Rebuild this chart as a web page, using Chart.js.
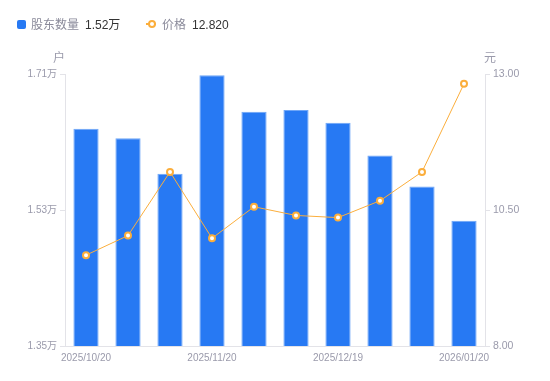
<!DOCTYPE html>
<html>
<head>
<meta charset="utf-8">
<script src="https://cdn.jsdelivr.net/npm/chart.js@4/dist/chart.umd.min.js"></script>
<style>
  html, body { margin: 0; padding: 0; background: #fff; }
  #wrap { position: relative; width: 550px; height: 381px; }
  #legend { position: absolute; left: 17px; top: 15px; font-family: "Liberation Sans", "Noto Sans CJK SC", sans-serif; font-size: 12px; white-space: nowrap; }
  .item { position: absolute; top: 0; height: 18px; line-height: 18px; }
  .lab { color: #8a8a9a; font-family: "Noto Sans CJK SC", sans-serif; }
  .val { color: #333; margin-left: 6px; }
  .sq { position: absolute; left: 0; top: 5px; width: 9px; height: 9px; border-radius: 2px; background: #2779F3; }
  .ln { position: absolute; left: 0; top: 8px; width: 10px; height: 2px; background: #FBAE3C; }
  .dot { position: absolute; left: 2px; top: 5px; width: 4px; height: 4px; border: 2px solid #FBAE3C; border-radius: 50%; background: #fff; }
</style>
</head>
<body>
<div id="wrap">
  <canvas id="c" width="550" height="381"></canvas>
  <div id="legend"></div>
</div>
<script>
const categories = ["2025/10/20","2025/10/31","2025/11/10","2025/11/20","2025/11/28","2025/12/10","2025/12/19","2025/12/31","2026/01/09","2026/01/20"];
const holders = [16375, 16250, 15780, 17085, 16600, 16625, 16455, 16020, 15610, 15157];
const prices = [9.67, 10.03, 11.20, 9.98, 10.56, 10.40, 10.36, 10.67, 11.20, 12.82];
const leftTicks = [13500, 15300, 17100];
const rightTicks = [8.00, 10.50, 13.00];
const shownLabelIdx = [0, 3, 6, 9];
const seriesNames = ["股东数量", "价格"];
const units = ["户", "元"];

const BLUE = "#2779F3", ORANGE = "#FBAE3C", GRAY = "#9a9aab", AXIS = "#e3e3e8";
const FONT = '"Liberation Sans", "Noto Sans CJK SC", sans-serif';

// HTML legend
const lg = document.getElementById('legend');
lg.innerHTML =
  '<div class="item" style="left:0"><span class="sq"></span><span style="margin-left:14px" class="lab">' + seriesNames[0] + '</span><span class="val">' + (holders[holders.length-1]/10000).toFixed(2) + '万</span></div>' +
  '<div class="item" style="left:129px"><span class="ln"></span><span class="dot"></span><span style="margin-left:16px" class="lab">' + seriesNames[1] + '</span><span class="val">' + prices[prices.length-1].toFixed(3) + '</span></div>';

const unitPlugin = {
  id: 'units',
  afterDraw(chart) {
    const ctx = chart.ctx, a = chart.chartArea;
    ctx.save();
    ctx.fillStyle = GRAY;
    ctx.font = '12px "Noto Sans CJK SC", sans-serif';
    ctx.textAlign = 'center';
    ctx.textBaseline = 'middle';
    ctx.fillText(units[0], a.left - 6, 57);
    ctx.fillText(units[1], a.right + 5, 57);
    ctx.restore();
  }
};

new Chart(document.getElementById('c'), {
  data: {
    labels: categories,
    datasets: [
      {
        type: 'line', label: seriesNames[1], data: prices, yAxisID: 'y1', order: 0,
        borderColor: ORANGE, borderWidth: 1, pointRadius: 3, pointBorderWidth: 2,
        pointBackgroundColor: '#fff', pointBorderColor: ORANGE, tension: 0
      },
      {
        type: 'bar', label: seriesNames[0], data: holders, yAxisID: 'y', order: 1,
        backgroundColor: BLUE, borderColor: '#6fa6f7', borderWidth: {top: 1, left: 1, right: 1, bottom: 0},
        categoryPercentage: 1, barPercentage: 0.6
      }
    ]
  },
  options: {
    responsive: false, animation: false,
    layout: { padding: { top: 74, left: 0, right: 0, bottom: 0 } },
    plugins: { legend: { display: false }, tooltip: { enabled: false } },
    scales: {
      x: {
        offset: true,
        grid: { display: false, drawTicks: false },
        border: { color: AXIS },
        afterFit(s) { s.height = 35; },
        ticks: {
          autoSkip: false, maxRotation: 0, padding: 6, color: GRAY,
          font: { size: 10, family: FONT },
          callback(v, i) { return shownLabelIdx.includes(i) ? categories[i] : ''; }
        }
      },
      y: {
        position: 'left', min: leftTicks[0], max: leftTicks[leftTicks.length-1],
        afterFit(s) { s.width = 65; },
        afterBuildTicks(s) { s.ticks = leftTicks.map(v => ({value: v})); },
        grid: { drawOnChartArea: false, tickLength: 5, color: AXIS },
        border: { color: AXIS },
        ticks: { color: GRAY, padding: 3, font: { size: 10, family: FONT },
          callback(v) { return (v/10000).toFixed(2) + '万'; } }
      },
      y1: {
        position: 'right', min: rightTicks[0], max: rightTicks[rightTicks.length-1],
        afterFit(s) { s.width = 65; },
        afterBuildTicks(s) { s.ticks = rightTicks.map(v => ({value: v})); },
        grid: { drawOnChartArea: false, tickLength: 5, color: AXIS },
        border: { color: AXIS },
        ticks: { color: GRAY, padding: 3, font: { size: 10.5, family: FONT },
          callback(v) { return Number(v).toFixed(2); } }
      }
    }
  },
  plugins: [unitPlugin]
});
</script>
</body>
</html>
